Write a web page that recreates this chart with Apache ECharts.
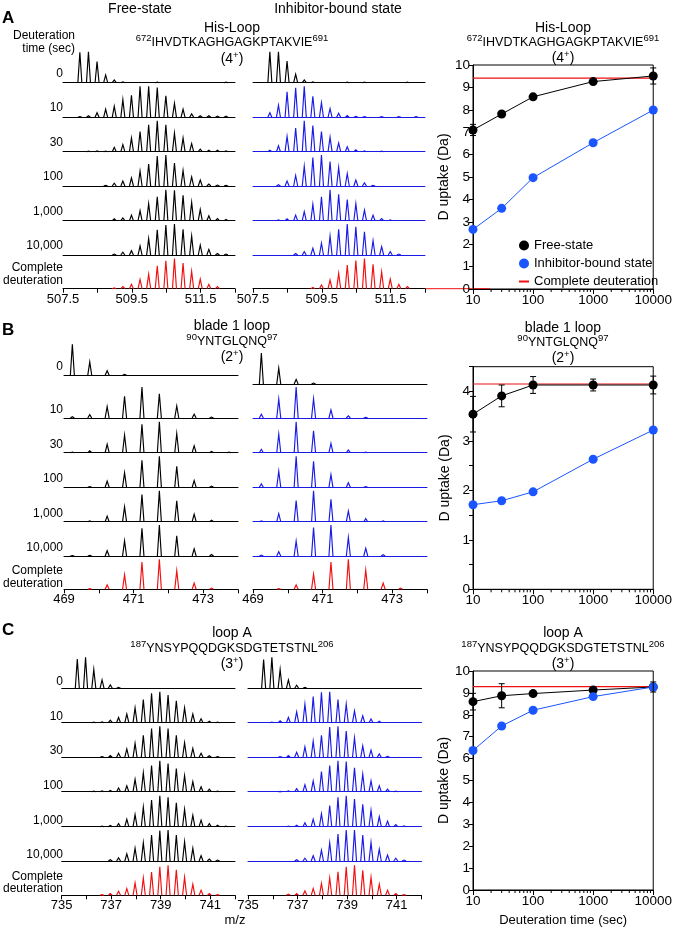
<!DOCTYPE html>
<html>
<head>
<meta charset="utf-8">
<script src="https://cdn.jsdelivr.net/npm/echarts@6/dist/echarts.min.js"></script>
<style>
  html, body { margin: 0; padding: 0; background: #fff; }
  #chart { width: 675px; height: 928px; }
</style>
</head>
<body>
<div id="chart"></div>
<script>
// ---------- data ----------
const timeLabels = ["0", "10", "30", "100", "1,000", "10,000"];
const uptakeTimes = [10, 30, 100, 1000, 10000];

// His-Loop (4+), isotope peaks from 507.99 m/z every 0.25
const hisMz0 = 507.99, hisStep = 0.25;
const hisTicks = [507.5, 508.5, 509.5, 510.5, 511.5, 512.5];
const hisLabels = [507.5, 509.5, 511.5];
const hisFree = [
  [0.98, 1.0, 0.68, 0.25, 0.09, 0.03, 0, 0, 0, 0.02, 0, 0, 0, 0, 0, 0, 0, 0.02],
  [0.02, 0.05, 0.15, 0.26, 0.36, 0.57, 0.71, 1.0, 1.0, 0.96, 0.69, 0.45, 0.26, 0.11, 0.05, 0.05, 0.04, 0.04],
  [0, 0.02, 0.03, 0.02, 0.14, 0.23, 0.44, 0.65, 0.87, 1.0, 0.87, 0.6, 0.44, 0.26, 0.08, 0.05, 0.05, 0.03],
  [0, 0, 0, 0.02, 0.09, 0.16, 0.26, 0.48, 0.71, 0.97, 1.0, 0.74, 0.5, 0.29, 0.19, 0.06, 0.03, 0.02],
  [0, 0, 0, 0, 0.06, 0.09, 0.18, 0.32, 0.55, 0.77, 1.0, 0.98, 0.82, 0.59, 0.36, 0.16, 0.07, 0.04],
  [0, 0, 0, 0, 0.03, 0.09, 0.14, 0.29, 0.53, 0.81, 0.97, 1.0, 0.83, 0.61, 0.32, 0.18, 0.05, 0.03],
  [0, 0, 0, 0, 0.03, 0.07, 0.14, 0.3, 0.47, 0.74, 0.9, 0.97, 0.83, 0.56, 0.31, 0.14, 0.07, 0]
];
const hisBound = [
  [1.0, 1.0, 0.7, 0.27, 0.09, 0.03, 0, 0, 0, 0.02, 0, 0.02, 0, 0, 0, 0, 0.02],
  [0.15, 0.39, 0.82, 0.95, 1.0, 0.68, 0.47, 0.28, 0.13, 0.06, 0.03, 0.02, 0, 0.02, 0, 0.02, 0, 0.02],
  [0.05, 0.19, 0.49, 0.76, 1.0, 0.84, 0.65, 0.47, 0.28, 0.16, 0.06, 0.03, 0, 0.02],
  [0, 0.04, 0.16, 0.34, 0.64, 0.92, 1.0, 0.79, 0.6, 0.4, 0.19, 0.1, 0.02],
  [0, 0.03, 0.06, 0.18, 0.29, 0.53, 0.77, 1.0, 0.85, 0.68, 0.55, 0.34, 0.18, 0.07, 0.03],
  [0, 0, 0, 0.05, 0.11, 0.22, 0.38, 0.61, 0.83, 1.0, 0.91, 0.75, 0.46, 0.27, 0.11, 0.03],
  [0, 0, 0, 0, 0, 0.04, 0.12, 0.28, 0.49, 0.76, 0.91, 0.97, 0.79, 0.54, 0.31, 0.14, 0.07]
];
const hisFreeUptake = [7.1, 7.81, 8.58, 9.26, 9.51];
const hisFreeErr = [0.25, 0.08, 0.08, 0.12, 0.36];
const hisBoundUptake = [2.66, 3.6, 4.97, 6.53, 7.99];
const hisComplete = 9.41;

// blade 1 loop (2+), isotope peaks from 469.24 m/z every 0.5
const bladeMz0 = 469.24, bladeStep = 0.5;
const bladeTicks = [469, 470, 471, 472, 473, 474];
const bladeLabels = [469, 471, 473];
const bladeFree = [
  [1.0, 0.43, 0.15, 0.03],
  [0.04, 0.11, 0.37, 0.7, 1.0, 0.78, 0.39, 0.12, 0.03],
  [0.02, 0.06, 0.27, 0.57, 0.92, 1.0, 0.62, 0.22, 0.04, 0.02],
  [0, 0.02, 0.2, 0.47, 0.87, 1.0, 0.68, 0.22, 0.04],
  [0, 0.03, 0.18, 0.48, 0.88, 1.0, 0.67, 0.24, 0.05],
  [0.01, 0.02, 0.17, 0.49, 0.89, 1.0, 0.65, 0.23, 0.05],
  [0, 0.02, 0.14, 0.47, 0.88, 0.97, 0.6, 0.2, 0.04]
];
const bladeBound = [
  [1.0, 0.51, 0.15, 0.03],
  [0.12, 0.61, 1.0, 0.62, 0.26, 0.07, 0.02],
  [0.11, 0.6, 1.0, 0.71, 0.3, 0.09, 0.02],
  [0.11, 0.52, 1.0, 0.84, 0.41, 0.15, 0.02],
  [0.03, 0.26, 0.68, 1.0, 0.72, 0.34, 0.1, 0.03],
  [0.03, 0.14, 0.48, 0.92, 1.0, 0.6, 0.25, 0.04],
  [0, 0.02, 0.14, 0.49, 0.88, 0.97, 0.62, 0.2, 0.04]
];
const bladeFreeUptake = [3.54, 3.91, 4.13, 4.13, 4.13];
const bladeFreeErr = [0.36, 0.22, 0.17, 0.12, 0.18];
const bladeBoundUptake = [1.71, 1.79, 1.97, 2.63, 3.22];
const bladeComplete = 4.15;

// loop A (3+), isotope peaks from 735.63 m/z every 1/3
const loopMz0 = 735.63, loopStep = 1 / 3;
const loopTicks = [735, 736, 737, 738, 739, 740, 741, 742];
const loopLabels = [735, 737, 739, 741];
const loopFree = [
  [0.94, 1.0, 0.61, 0.27, 0.11, 0.03],
  [0, 0, 0.02, 0.03, 0.08, 0.17, 0.28, 0.48, 0.75, 0.95, 1.0, 0.89, 0.71, 0.48, 0.28, 0.13, 0.05, 0.02],
  [0, 0, 0, 0.02, 0.06, 0.13, 0.27, 0.45, 0.71, 0.93, 1.0, 0.93, 0.71, 0.47, 0.29, 0.13, 0.05, 0.02],
  [0, 0, 0.02, 0.03, 0.04, 0.12, 0.19, 0.4, 0.61, 0.84, 1.0, 0.91, 0.75, 0.52, 0.32, 0.16, 0.08, 0.02],
  [0, 0, 0, 0.02, 0.04, 0.1, 0.24, 0.39, 0.63, 0.86, 1.0, 0.95, 0.77, 0.56, 0.37, 0.21, 0.1, 0.05, 0.02],
  [0, 0, 0, 0, 0.04, 0.1, 0.23, 0.41, 0.59, 0.84, 0.98, 1.0, 0.84, 0.62, 0.41, 0.17, 0.06, 0.03],
  [0, 0, 0, 0.02, 0.06, 0.13, 0.22, 0.4, 0.56, 0.75, 0.92, 0.97, 0.82, 0.58, 0.36, 0.16, 0.06, 0.02]
];
const loopBound = [
  [0.93, 1.0, 0.61, 0.27, 0.1, 0.03],
  [0, 0.02, 0.06, 0.17, 0.35, 0.6, 0.84, 0.98, 1.0, 0.75, 0.6, 0.38, 0.22, 0.12, 0.05],
  [0, 0, 0.02, 0.06, 0.16, 0.34, 0.52, 0.71, 0.98, 1.0, 0.85, 0.63, 0.37, 0.23, 0.11, 0.03],
  [0, 0, 0.01, 0.03, 0.1, 0.22, 0.35, 0.65, 0.84, 1.0, 0.97, 0.77, 0.57, 0.35, 0.19, 0.08, 0.02],
  [0, 0, 0, 0.02, 0.05, 0.13, 0.24, 0.42, 0.68, 0.95, 1.0, 0.89, 0.72, 0.53, 0.32, 0.18, 0.07, 0.03],
  [0, 0, 0, 0, 0.04, 0.09, 0.17, 0.35, 0.59, 0.87, 1.0, 1.0, 0.84, 0.6, 0.38, 0.19, 0.09, 0.03],
  [0, 0, 0, 0.04, 0.06, 0.14, 0.22, 0.38, 0.56, 0.76, 0.92, 0.97, 0.81, 0.58, 0.36, 0.16, 0.06, 0.02]
];
const loopFreeUptake = [8.6, 8.87, 8.97, 9.13, 9.27];
const loopFreeErr = [0.38, 0.55, 0.1, 0.08, 0.23];
const loopBoundUptake = [6.37, 7.49, 8.21, 8.83, 9.27];
const loopComplete = 9.29;

// minor ticks of the log time axis
const logMinorTicks = [20, 30, 40, 50, 60, 70, 80, 90, 200, 300, 400, 500, 600, 700, 800, 900,
  2000, 3000, 4000, 5000, 6000, 7000, 8000, 9000];

// ---------- styles ----------
const FONT = "Liberation Sans, Arial, Helvetica, sans-serif";
const BLACK = "#000";
const BLUE_MS = "#1a1ae6";
const BLUE = "#1a55ff";
const RED = "#f01010";
const PEAK_H = 31; // pixel height of a full peak

const option = {
  animation: false,
  textStyle: { fontFamily: FONT, color: BLACK },
  grid: [], xAxis: [], yAxis: [], series: [], graphic: [],
  legend: {
    orient: "vertical", left: 519, top: 239, padding: 0,
    itemWidth: 10, itemHeight: 10, itemGap: 5, selectedMode: false,
    textStyle: { fontSize: 13, color: BLACK, fontFamily: FONT },
    data: [
      { name: "Free-state", icon: "circle" },
      { name: "Inhibitor-bound state", icon: "circle" },
      { name: "Complete deuteration", icon: "path://M0,0H10V2H0Z" }
    ]
  }
};

// draws one isotopic peak as a thin spike
function peakRender(color) {
  return function (params, api) {
    const b = api.coord([api.value(0), 0]);
    const t = api.coord([api.value(0), api.value(1)]);
    return {
      type: "polyline",
      shape: { points: [[b[0] - 2, b[1]], [t[0], t[1]], [b[0] + 2, b[1]]] },
      style: { stroke: color, fill: null, lineWidth: 1.15 }
    };
  };
}

function addSpectrum(left, width, base, range, heights, mz0, step, color, bottom, ticks, labels) {
  const gi = option.grid.length;
  option.grid.push({ left: left, width: width, top: base - PEAK_H, height: PEAK_H });
  option.xAxis.push({
    type: "value", gridIndex: gi, min: range[0], max: range[1],
    axisLine: { show: true, onZero: false, lineStyle: { color: bottom ? BLACK : color, width: 1 } },
    axisTick: { show: bottom, customValues: ticks, length: 4, lineStyle: { color: BLACK } },
    axisLabel: { show: bottom, customValues: labels, fontSize: 13, color: BLACK, margin: 4,
      formatter: (v) => String(v) },
    splitLine: { show: false }
  });
  option.yAxis.push({ type: "value", gridIndex: gi, min: 0, max: 1, show: false });
  const data = [];
  heights.forEach((h, k) => { if (h > 0) data.push([mz0 + k * step, h]); });
  option.series.push({
    type: "custom", xAxisIndex: option.xAxis.length - 1, yAxisIndex: option.yAxis.length - 1,
    data: data, renderItem: peakRender(color), clip: false, silent: true
  });
}

function text(x, y, str, size, align, weight) {
  option.graphic.push({
    type: "text", x: x, y: y, silent: true,
    style: {
      text: str, fontSize: size, fontFamily: FONT, fontWeight: weight || "normal", fill: BLACK,
      align: align || "center", verticalAlign: "middle",
      textAlign: align || "center", textVerticalAlign: "middle"
    }
  });
}

function richText(x, y, str, mainSize, supSize) {
  option.graphic.push({
    type: "text", x: x, y: y, silent: true,
    style: {
      text: str, align: "center", verticalAlign: "middle",
      rich: {
        m: { fontSize: mainSize, fontFamily: FONT, fill: BLACK, lineHeight: 16, verticalAlign: "bottom" },
        s: { fontSize: supSize, fontFamily: FONT, fill: BLACK, lineHeight: 8, verticalAlign: "top" }
      }
    }
  });
}

function titleBlock(x, ys, name, seqStart, seq, seqEnd, charge) {
  text(x, ys[0], name, 14);
  richText(x, ys[1], "{s|" + seqStart + "}{m|" + seq + "}{s|" + seqEnd + "}", 12.5, 9.5);
  richText(x, ys[2], "{m|(" + charge + "}{s|+}{m|)}", 14, 9.5);
}

// errorbars with caps
function errRender(params, api) {
  const x = api.value(0), v = api.value(1), e = api.value(2);
  const lo = api.coord([x, v - e]), hi = api.coord([x, v + e]);
  const st = { stroke: BLACK, lineWidth: 1 };
  return {
    type: "group", children: [
      { type: "line", shape: { x1: lo[0], y1: lo[1], x2: hi[0], y2: hi[1] }, style: st },
      { type: "line", shape: { x1: lo[0] - 3, y1: lo[1], x2: lo[0] + 3, y2: lo[1] }, style: st },
      { type: "line", shape: { x1: hi[0] - 3, y1: hi[1], x2: hi[0] + 3, y2: hi[1] }, style: st }
    ]
  };
}

function minorTickRender(params, api) {
  const p = api.coord([api.value(0), 0]);
  return { type: "line", shape: { x1: p[0], y1: p[1], x2: p[0], y2: p[1] + 3 },
    style: { stroke: BLACK, lineWidth: 1 } };
}

function addUptake(top, height, yMax, yStep, free, freeErr, bound, complete, xName) {
  const gi = option.grid.length;
  option.grid.push({ left: 473, width: 186, top: top, height: height, show: true,
    borderColor: BLACK, borderWidth: 1, backgroundColor: "transparent" });
  option.xAxis.push({
    type: "log", logBase: 10, gridIndex: gi, min: 10, max: 10000,
    axisLine: { lineStyle: { color: BLACK } },
    axisTick: { length: 5, lineStyle: { color: BLACK } },
    axisLabel: { fontSize: 13.5, color: BLACK, margin: 4, formatter: (v) => String(v) },
    splitLine: { show: false },
    name: xName || "", nameLocation: "middle", nameGap: 24,
    nameTextStyle: { fontSize: 13, color: BLACK, fontFamily: FONT }
  });
  option.yAxis.push({
    type: "value", gridIndex: gi, min: 0, max: yMax, interval: yStep,
    axisLine: { show: true, lineStyle: { color: BLACK } },
    axisTick: { length: 4, lineStyle: { color: BLACK } },
    axisLabel: { fontSize: 13.5, color: BLACK, margin: 3,
      formatter: (v) => (Math.abs(v - Math.round(v)) < 1e-6 ? String(Math.round(v)) : "") },
    splitLine: { show: false },
    name: "D uptake (Da)", nameLocation: "middle", nameGap: 21,
    nameTextStyle: { fontSize: 14, color: BLACK, fontFamily: FONT }
  });
  const xi = option.xAxis.length - 1, yi = option.yAxis.length - 1;
  const axes = { xAxisIndex: xi, yAxisIndex: yi };
  option.series.push(Object.assign({
    type: "custom", data: logMinorTicks.map((t) => [t, 0]), renderItem: minorTickRender,
    clip: false, silent: true
  }, axes));
  option.series.push(Object.assign({
    name: "Complete deuteration", type: "line", showSymbol: false, symbol: "none",
    data: [[10, complete], [10000, complete]],
    lineStyle: { color: RED, width: 1.2 }, itemStyle: { color: RED }, z: 2
  }, axes));
  option.series.push(Object.assign({
    name: "Free-state", type: "line", symbol: "circle", symbolSize: 9,
    data: uptakeTimes.map((t, i) => [t, free[i]]),
    lineStyle: { color: BLACK, width: 1 }, itemStyle: { color: BLACK }, z: 3
  }, axes));
  option.series.push(Object.assign({
    name: "Inhibitor-bound state", type: "line", symbol: "circle", symbolSize: 9,
    data: uptakeTimes.map((t, i) => [t, bound[i]]),
    lineStyle: { color: BLUE, width: 1 }, itemStyle: { color: BLUE }, z: 4
  }, axes));
  option.series.push(Object.assign({
    type: "custom", data: uptakeTimes.map((t, i) => [t, free[i], freeErr[i]]),
    renderItem: errRender, clip: false, silent: true, z: 5
  }, axes));
}

// ---------- layout of the three panels ----------
const panels = [
  {
    letterY: 18, titleY: [28, 41, 58], titleY2: [28, 41, 57],
    name: "His-Loop", s0: "672", seq: "IHVDTKAGHGAGKPTAKVIE", s1: "691", charge: "4",
    free: hisFree, bound: hisBound, mz0: hisMz0, step: hisStep, range: [507.5, 512.5],
    ticks: hisTicks, labels: hisLabels,
    left: [63, 172], mid: [253, 172],
    baseL: [82.7, 117.3, 151.7, 186, 220.7, 255, 288.7],
    baseM: [82.7, 117.3, 151.7, 186, 220.7, 255, 288.7],
    labelDy: -9.5, completeDy: [-21, -8.5],
    up: [65, 224, 10, 1, hisFreeUptake, hisFreeErr, hisBoundUptake, hisComplete, ""]
  },
  {
    letterY: 330, titleY: [326, 340, 356], titleY2: [328, 341, 357],
    name: "blade 1 loop", s0: "90", seq: "YNTGLQNQ", s1: "97", charge: "2",
    free: bladeFree, bound: bladeBound, mz0: bladeMz0, step: bladeStep, range: [469, 474],
    ticks: bladeTicks, labels: bladeLabels,
    left: [64, 174], mid: [253, 174],
    baseL: [375.3, 418, 452.7, 487.3, 521.7, 556, 589.3],
    baseM: [384, 418, 452.7, 487.3, 521.7, 556, 589.3],
    labelDy: -8.5, completeDy: [-18.6, -5.5],
    up: [366.7, 222.6, 4.5, 0.5, bladeFreeUptake, bladeFreeErr, bladeBoundUptake, bladeComplete, ""]
  },
  {
    letterY: 630, titleY: [633, 647, 663], titleY2: [633, 647, 663],
    name: "loop A", s0: "187", seq: "YNSYPQQDGKSDGTETSTNL", s1: "206", charge: "3",
    free: loopFree, bound: loopBound, mz0: loopMz0, step: loopStep, range: [735, 742],
    ticks: loopTicks, labels: loopLabels,
    left: [61.7, 173.3], mid: [248, 173.5],
    baseL: [688.3, 722.7, 757.3, 791.7, 826.7, 861, 895.3],
    baseM: [688.3, 722.7, 757.3, 791.7, 826.7, 861, 895.3],
    labelDy: -6.5, completeDy: [-19, -7],
    up: [671, 224, 10, 1, loopFreeUptake, loopFreeErr, loopBoundUptake, loopComplete, "Deuteration time (sec)"]
  }
];

["A", "B", "C"].forEach((l, i) => text(2, panels[i].letterY, l, 17, "left", "bold"));
text(140, 9, "Free-state", 14);
text(338, 9, "Inhibitor-bound state", 14);
text(75, 35.7, "Deuteration", 12, "right");
text(75, 49, "time (sec)", 12, "right");

panels.forEach((p) => {
  for (let t = 0; t < 7; t++) {
    const bottom = t === 6;
    const colL = bottom ? RED : BLACK;
    const colM = bottom ? RED : (t === 0 ? BLACK : BLUE_MS);
    addSpectrum(p.left[0], p.left[1], p.baseL[t], p.range, p.free[t], p.mz0, p.step, colL, bottom, p.ticks, p.labels);
    addSpectrum(p.mid[0], p.mid[1], p.baseM[t], p.range, p.bound[t], p.mz0, p.step, colM, bottom, p.ticks, p.labels);
    if (!bottom) text(63, p.baseL[t] + p.labelDy, timeLabels[t], 12, "right");
  }
  text(63, p.baseL[6] + p.completeDy[0], "Complete", 12, "right");
  text(63, p.baseL[6] + p.completeDy[1], "deuteration", 12, "right");
  titleBlock(232, p.titleY, p.name, p.s0, p.seq, p.s1, p.charge);
  titleBlock(563, p.titleY2, p.name, p.s0, p.seq, p.s1, p.charge);
  addUptake.apply(null, p.up);
});

text(235, 920, "m/z", 13);

// the red baseline of the bound-state complete trace runs on past its axis
option.graphic.push({ type: "line", silent: true,
  shape: { x1: 425, y1: 288.7, x2: 490, y2: 288.7 }, style: { stroke: RED, lineWidth: 1 } });

const chart = echarts.init(document.getElementById("chart"));
chart.setOption(option);
</script>
</body>
</html>
